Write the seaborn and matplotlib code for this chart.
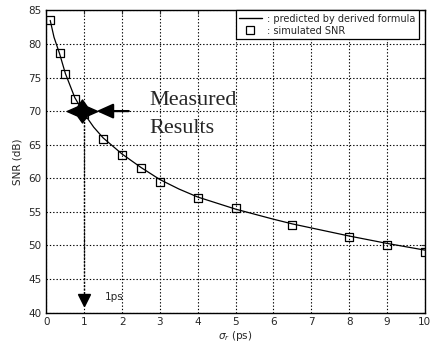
import matplotlib
matplotlib.use("Agg")
import matplotlib.pyplot as plt
import seaborn as sns
import numpy as np
import pandas as pd
from matplotlib.lines import Line2D
from matplotlib.path import Path

sns.set_style("white")
plt.rcParams['font.family'] = ['DejaVu Sans']

# predicted curve
line_x = [0.1, 0.2, 0.35, 0.5, 0.75, 1.0, 1.25, 1.5, 2.0, 2.5, 3.0, 3.5, 4.0, 5.0, 6.0, 6.5, 7.0, 8.0, 9.0, 10.0]
line_y = [83.5, 81.0, 78.5, 75.6, 72.0, 69.6, 67.6, 66.0, 63.6, 61.6, 59.8, 58.4, 57.2, 55.4, 53.9, 53.2, 52.6, 51.4, 50.3, 49.3]

# simulated SNR points
sim_x = [0.1, 0.35, 0.5, 0.75, 1.0, 1.5, 2.0, 2.5, 3.0, 4.0, 5.0, 6.5, 8.0, 9.0, 10.0]
sim_y = [83.5, 78.6, 75.5, 71.8, 69.5, 65.8, 63.5, 61.5, 59.4, 57.0, 55.6, 53.0, 51.3, 50.0, 49.0]

x_ticks = list(range(0, 11))
y_ticks = list(range(40, 90, 5))

meas_x, meas_y = 1.0, 70.0

fig = plt.figure(figsize=(4.3, 3.45), dpi=100)
ax = fig.add_axes([0.108, 0.094, 0.880, 0.876])

df_line = pd.DataFrame({"x": line_x, "y": line_y})
df_sim = pd.DataFrame({"x": sim_x, "y": sim_y})

sns.lineplot(data=df_line, x="x", y="y", color="black", linewidth=0.9, ax=ax, zorder=3)
sns.scatterplot(data=df_sim, x="x", y="y", marker="s", s=32, facecolor="none",
                edgecolor="black", linewidth=0.9, ax=ax, zorder=4)

ax.set_xlim(0, 10)
ax.set_ylim(40, 85)
ax.set_xticks(x_ticks)
ax.set_yticks(y_ticks)
ax.grid(True, color="black", linestyle=(0, (1.2, 1.8)), linewidth=0.8)
ax.tick_params(direction="in", length=3, labelsize=7.5, width=0.8, top=True, right=True,
               labeltop=False, labelright=False)
for s in ax.spines.values():
    s.set_visible(True)
    s.set_color("black")
    s.set_linewidth(1.0)
ax.set_xlabel(r"$\sigma_r$ (ps)", fontsize=7.5, labelpad=1)
ax.set_ylabel("SNR (dB)", fontsize=7.5, labelpad=4)

# 4-point star, wider than tall
star_verts = [(-1.0, 0.0), (-0.32, 0.3), (0.0, 0.75), (0.32, 0.3), (1.0, 0.0),
              (0.32, -0.3), (0.0, -0.75), (-0.32, -0.3), (-1.0, 0.0)]
star_codes = [Path.MOVETO] + [Path.LINETO] * 7 + [Path.CLOSEPOLY]
star = Path(star_verts, star_codes)

# measured results: star, arrow, vertical dotted line
ax.plot([meas_x, meas_x], [meas_y, 42.5], color="black", linestyle=(0, (1.5, 1.0)), linewidth=1.0, zorder=5)
ax.plot([meas_x], [41.9], marker="v", markersize=8, color="black", zorder=6, clip_on=False)
ax.plot([0.93], [meas_y], marker=star, markersize=22, color="black", zorder=6)
ax.annotate("", xy=(1.25, meas_y), xytext=(2.25, meas_y),
            arrowprops=dict(arrowstyle="-|>,head_length=1.0,head_width=0.45", color="black", lw=1.6),
            zorder=6)
ax.text(2.72, 71.6, "Measured", family="Liberation Serif", fontsize=16, va="center", ha="left")
ax.text(2.72, 67.4, "Results", family="Liberation Serif", fontsize=16, va="center", ha="left")
ax.text(1.55, 42.3, "1ps", fontsize=7.5, va="center", ha="left")

handles = [
    Line2D([0], [0], color="black", linewidth=1.0),
    Line2D([0], [0], color="black", marker="s", markersize=5.5, markerfacecolor="none",
           linestyle="none", markeredgewidth=0.9),
]
leg = ax.legend(handles, [": predicted by derived formula", ": simulated SNR"], loc="upper right",
                bbox_to_anchor=(0.985, 1.0), fontsize=7, frameon=True, fancybox=False,
                edgecolor="black", framealpha=1, handlelength=2.3, handletextpad=0.6,
                borderpad=0.35, labelspacing=0.2, borderaxespad=0.0)
leg.get_frame().set_linewidth(0.9)
leg.set_zorder(10)

fig.savefig("out.png", dpi=100)
